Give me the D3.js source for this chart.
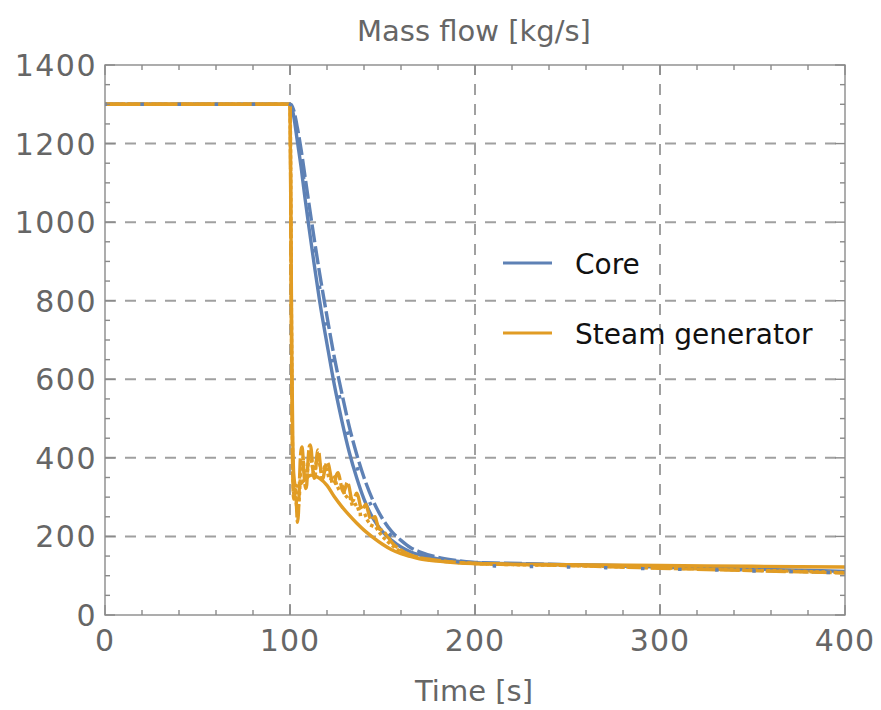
<!DOCTYPE html>
<html>
<head>
<meta charset="utf-8">
<script src="https://cdn.jsdelivr.net/npm/d3@7"></script>
<style>
  body { margin: 0; background: #fff; }
  text { font-family: "DejaVu Sans", sans-serif; }
</style>
</head>
<body>
<div id="chart"></div>
<script>
// time [s] and mass flow [kg/s]
const coreT = [0, 100, 101, 102, 104, 106, 108, 110, 113, 116, 120, 124, 128, 132, 136, 140, 145, 150, 155, 160, 165, 170, 180, 190, 200, 225, 250, 275, 300, 325, 350, 375, 400];
const coreSolid  = [1300, 1300, 1292, 1270, 1205, 1140, 1065, 995, 895, 800, 690, 585, 495, 415, 350, 295, 245, 212, 190, 173, 161, 153, 143, 137, 133, 130, 128, 126, 123, 120, 117, 114, 111];
const coreDashed = [1300, 1300, 1297, 1285, 1240, 1185, 1120, 1055, 960, 870, 760, 655, 565, 480, 410, 350, 290, 245, 212, 190, 172, 161, 147, 139, 134, 131, 128, 125, 122, 118, 114, 111, 108];
const coreDotted = [1300, 1300, 1295, 1278, 1222, 1162, 1092, 1025, 928, 835, 725, 620, 530, 448, 380, 322, 268, 228, 200, 181, 167, 157, 145, 136, 126, 124, 122, 120, 117, 115, 112, 110, 107];

const sgSolidT = [0, 100, 100.5, 101, 101.5, 102, 103, 104, 106, 108, 110, 112, 114, 116, 120, 124, 128, 132, 136, 140, 145, 150, 155, 160, 165, 170, 180, 190, 200, 250, 300, 350, 400];
const sgSolid  = [1300, 1300, 1000, 650, 450, 360, 330, 328, 335, 345, 353, 356, 353, 348, 330, 301, 276, 254, 234, 216, 197, 180, 166, 156, 149, 143, 137, 133, 131, 128, 126, 124, 122];

const sgDashedT = [0, 100, 100.5, 101, 101.5, 102, 102.5, 103, 103.5, 104, 104.5, 105, 105.5, 106, 106.5, 107, 107.5, 108, 108.5, 109, 109.5, 110, 110.5, 111, 111.5, 112, 112.5, 113, 113.5, 114, 114.5, 115, 115.5, 116, 116.5, 117, 117.5, 118, 119, 120, 121, 122, 123, 124, 125, 126, 127, 128, 129, 130, 131, 132, 133, 134, 135, 136, 137, 138, 139, 140, 141, 142, 143, 144, 145, 146, 147, 148, 150, 152, 155, 160, 165, 170, 180, 190, 200, 250, 300, 350, 400];
const sgDashed  = [1300, 1300, 950, 560, 350, 295, 300, 320, 280, 236, 255, 320, 390, 420, 428, 405, 365, 335, 322, 330, 370, 410, 430, 433, 420, 390, 362, 348, 350, 375, 405, 420, 418, 400, 375, 355, 345, 350, 375, 389, 380, 355, 333, 335, 355, 362, 345, 322, 312, 325, 338, 325, 300, 290, 300, 310, 300, 278, 268, 275, 282, 268, 250, 242, 247, 250, 235, 220, 215, 205, 185, 165, 153, 146, 139, 134, 131, 126, 119, 113, 107];

const sgDottedT = [0, 100, 101, 101.5, 102, 103, 104, 105, 106, 107, 108, 109, 110, 111, 112, 113, 114, 115, 116, 117, 118, 119, 120, 121, 122, 123, 124, 125, 126, 127, 128, 129, 130, 131, 132, 133, 134, 135, 136, 137, 138, 139, 140, 142, 144, 146, 148, 150, 155, 160, 165, 170, 180, 190, 200, 250, 300, 350, 400];
const sgDotted  = [1300, 1300, 600, 380, 310, 300, 265, 300, 380, 400, 350, 345, 395, 410, 380, 360, 385, 400, 385, 365, 368, 380, 370, 350, 345, 355, 352, 335, 322, 327, 330, 315, 300, 303, 305, 290, 276, 280, 282, 268, 256, 258, 258, 240, 228, 225, 212, 200, 178, 161, 151, 145, 138, 134, 131, 126, 120, 114, 108];

const xTicks = [0, 100, 200, 300, 400];
const yTicks = [0, 200, 400, 600, 800, 1000, 1200, 1400];
const legendNames = ["Core", "Steam generator"];

const BLUE = "#5e81b5", ORANGE = "#e19c24";
const W = 881, H = 710;
const m = { left: 105, right: 845, top: 65, bottom: 615 };

const svg = d3.select("#chart").append("svg").attr("width", W).attr("height", H);

const x = d3.scaleLinear().domain([0, 400]).range([m.left, m.right]);
const y = d3.scaleLinear().domain([0, 1400]).range([m.bottom, m.top]);

svg.append("clipPath").attr("id", "clip").append("rect")
    .attr("x", m.left).attr("y", m.top)
    .attr("width", m.right - m.left).attr("height", m.bottom - m.top);

// grid
const grid = svg.append("g").attr("stroke", "#a0a0a0").attr("stroke-width", 2).attr("stroke-dasharray", "11,9");
grid.selectAll("line.gx").data(xTicks.slice(1, -1)).enter().append("line")
    .attr("x1", d => x(d)).attr("x2", d => x(d)).attr("y1", m.bottom).attr("y2", m.top);
grid.selectAll("line.gy").data(yTicks.slice(1, -1)).enter().append("line")
    .attr("y1", d => y(d)).attr("y2", d => y(d)).attr("x1", m.left).attr("x2", m.right);

// series
const line = (ts) => d3.line().x((d, i) => x(ts[i])).y(d => y(d)).curve(d3.curveMonotoneX);
const series = [
    { t: coreT, v: coreSolid, c: BLUE, dash: null },
    { t: coreT, v: coreDashed, c: BLUE, dash: "18,4" },
    { t: sgSolidT, v: sgSolid, c: ORANGE, dash: null },
    { t: sgDashedT, v: sgDashed, c: ORANGE, dash: "20,3" },
    { t: sgDottedT, v: sgDotted, c: ORANGE, dash: "0.1,6" },
    { t: coreT, v: coreDotted, c: BLUE, dash: "0.1,37" }
];
const plot = svg.append("g").attr("clip-path", "url(#clip)");
series.forEach(s => {
    plot.append("path")
        .datum(s.v)
        .attr("d", line(s.t))
        .attr("fill", "none")
        .attr("stroke", s.c)
        .attr("stroke-width", 3.4)
        .attr("stroke-linejoin", "round")
        .attr("stroke-linecap", s.dash && s.dash.startsWith("0.1") ? "square" : "butt")
        .attr("stroke-dasharray", s.dash);
});

// frame and ticks
const frame = svg.append("g").attr("stroke", "#8a8a8a").attr("stroke-width", 1.4);
frame.append("rect").attr("x", m.left).attr("y", m.top)
    .attr("width", m.right - m.left).attr("height", m.bottom - m.top).attr("fill", "none");

const xMinor = d3.range(0, 401, 20), yMinor = d3.range(0, 1401, 50);
xMinor.forEach(d => {
    const len = d % 100 === 0 ? 10 : 5;
    frame.append("line").attr("x1", x(d)).attr("x2", x(d)).attr("y1", m.bottom).attr("y2", m.bottom - len);
    frame.append("line").attr("x1", x(d)).attr("x2", x(d)).attr("y1", m.top).attr("y2", m.top + len);
});
yMinor.forEach(d => {
    const len = d % 200 === 0 ? 10 : 5;
    frame.append("line").attr("y1", y(d)).attr("y2", y(d)).attr("x1", m.left).attr("x2", m.left + len);
    frame.append("line").attr("y1", y(d)).attr("y2", y(d)).attr("x1", m.right).attr("x2", m.right - len);
});

// tick labels
svg.append("g").selectAll("text").data(xTicks).enter().append("text")
    .attr("x", d => x(d)).attr("y", 651)
    .attr("text-anchor", "middle").attr("fill", "#666").attr("font-size", 30)
    .attr("letter-spacing", 1)
    .text(d => d);
svg.append("g").selectAll("text").data(yTicks).enter().append("text")
    .attr("x", 97).attr("y", d => y(d) + 11)
    .attr("text-anchor", "end").attr("fill", "#666").attr("font-size", 30)
    .attr("letter-spacing", 1.5)
    .text(d => d);

// titles
svg.append("text").attr("x", 474).attr("y", 41).attr("text-anchor", "middle")
    .attr("fill", "#666").attr("font-size", 29).text("Mass flow [kg/s]");
svg.append("text").attr("x", 474).attr("y", 701).attr("text-anchor", "middle")
    .attr("fill", "#666").attr("font-size", 29).text("Time [s]");

// legend
const leg = svg.append("g");
[BLUE, ORANGE].forEach((c, i) => {
    const ly = 263 + i * 70;
    leg.append("line").attr("x1", 503).attr("x2", 552).attr("y1", ly).attr("y2", ly)
        .attr("stroke", c).attr("stroke-width", 3);
    leg.append("text").attr("x", 575).attr("y", ly + 11).attr("fill", "#111")
        .attr("font-size", 28).text(legendNames[i]);
});
</script>
</body>
</html>
